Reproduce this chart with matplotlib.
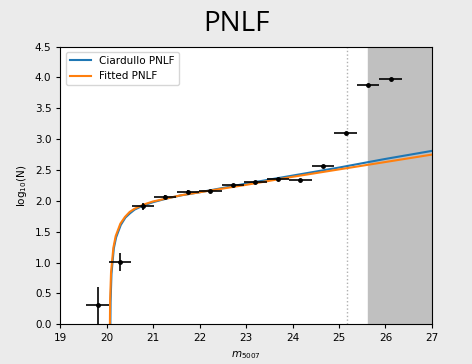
import matplotlib.pyplot as plt

# binned PN counts (log10 N) with bin half-widths
m_bins = [19.80, 20.29, 20.78, 21.26, 21.75, 22.23, 22.72, 23.20, 23.69, 24.17, 24.66, 25.14, 25.63, 26.11]
logN = [0.31, 1.01, 1.91, 2.06, 2.15, 2.16, 2.26, 2.30, 2.35, 2.34, 2.57, 3.10, 3.88, 3.98]
logN_err = [0.30, 0.14, 0.05, 0.03, 0.02, 0.02, 0.02, 0.02, 0.02, 0.02, 0.01, 0.01, 0.01, 0.01]
m_err = [0.24] * len(m_bins)

# curves
m_ciar = [20.072, 20.08, 20.10, 20.15, 20.20, 20.30, 20.40, 20.50, 20.60, 20.80, 21.00, 21.30, 21.60, 22.0, 23.0, 24.0, 25.0, 26.0, 27.0]
logN_ciar = [-0.34, 0.36, 0.82, 1.23, 1.41, 1.61, 1.73, 1.80, 1.86, 1.93, 1.98, 2.04, 2.09, 2.14, 2.28, 2.41, 2.54, 2.68, 2.81]
m_fit = [20.062, 20.07, 20.09, 20.14, 20.19, 20.29, 20.39, 20.49, 20.59, 20.79, 20.99, 21.29, 21.59, 22.0, 23.0, 24.0, 25.0, 26.0, 27.0]
logN_fit = [-0.32, 0.38, 0.84, 1.24, 1.43, 1.63, 1.74, 1.82, 1.87, 1.94, 1.99, 2.04, 2.09, 2.14, 2.26, 2.39, 2.51, 2.63, 2.75]

m_completeness = 25.17
m_excluded = 25.63

fig = plt.figure(figsize=(4.72, 3.64), dpi=100, facecolor='#ebebeb')
ax = fig.add_axes([0.128, 0.109, 0.787, 0.763])

ax.axvspan(m_excluded, 27, color='#c0c0c0', zorder=0)
ax.axvline(m_completeness, color='#b0b0b0', ls=':', lw=1, zorder=0)

ax.plot(m_ciar, logN_ciar, color='C0', lw=1.5, label='Ciardullo PNLF')
ax.plot(m_fit, logN_fit, color='C1', lw=1.5, label='Fitted PNLF')
ax.errorbar(m_bins, logN, xerr=m_err, yerr=logN_err, fmt='o', color='k',
            ms=2.5, elinewidth=1.2, capsize=0, zorder=3)

ax.set_xlim(19, 27)
ax.set_ylim(0, 4.5)
ax.set_xticks(range(19, 28))
ax.set_yticks([0, 0.5, 1, 1.5, 2, 2.5, 3, 3.5, 4, 4.5])
ax.tick_params(labelsize=7.5, length=3)
ax.set_xlabel('$m_{5007}$', fontsize=7.5)
ax.set_ylabel('log$_{10}$(N)', fontsize=7.5)
ax.legend(loc='upper left', fontsize=7.5)

fig.text(0.5, 0.935, 'PNLF', ha='center', va='center', fontsize=20, family='Open Sans')

fig.savefig('out.png', dpi=100, facecolor=fig.get_facecolor())
